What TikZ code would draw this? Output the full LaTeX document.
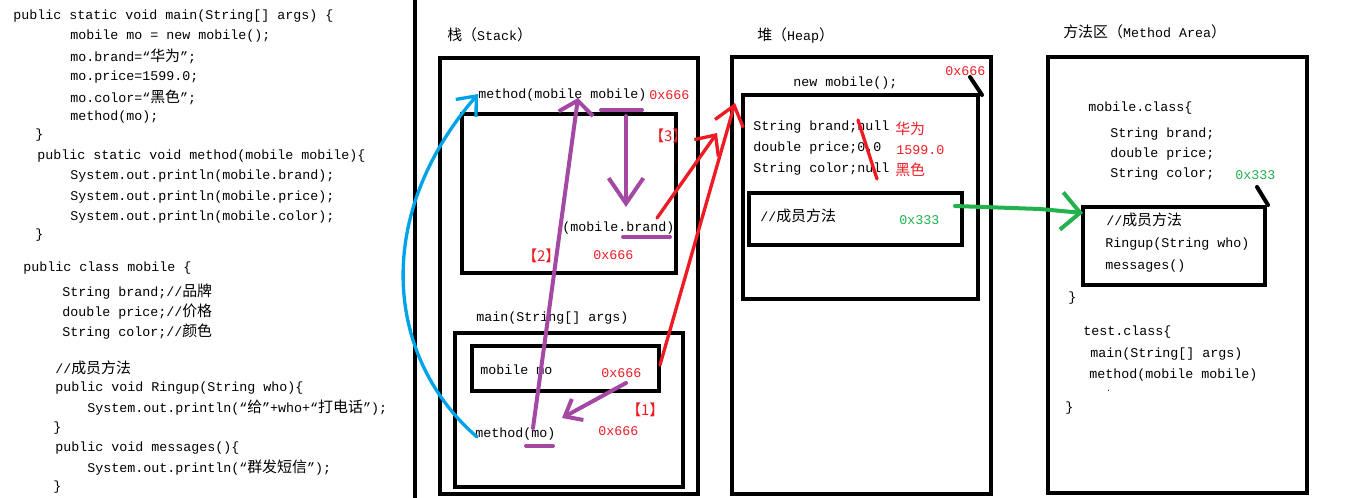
\documentclass[tikz,border=0pt]{standalone}
\usepackage{fontspec}
\setmonofont{Liberation Mono}
\newfontfamily\cjk[Scale=1.12]{Noto Sans CJK SC}
\newcommand\zhtext[1]{{\cjk #1}}
\usetikzlibrary{arrows.meta}
\definecolor{pred}{RGB}{237,28,36}
\definecolor{ppurple}{RGB}{163,73,164}
\definecolor{pblue}{RGB}{0,162,232}
\definecolor{pgreen}{RGB}{34,177,76}
\tikzset{
  src/.style={anchor=west, inner sep=0pt, font=\ttfamily\fontsize{10}{12}\selectfont},
  addr/.style={src, text=pred},
  addrg/.style={src, text=pgreen},
  membox/.style={draw, line width=3pt},
  hand/.style={line width=#1, line cap=round, line join=round},
  hand/.default=2.5pt
}

\begin{document}
\begin{tikzpicture}[x=0.75pt,y=-0.75pt]
	\useasboundingbox (0,0) rectangle (1360,498);
	%% The source code
	\node[src] (m1) at (13,16) {public static void main(String[] args) \{};
	\node[src] (m2) at (70,36) {mobile mo = new mobile();};
	\node[src] (m3) at (70,56) {mo.brand=“\zhtext{华为}”;};
	\node[src] (m4) at (70,77) {mo.price=1599.0;};
	\node[src] (m5) at (70,97) {mo.color=“\zhtext{黑色}”;};
	\node[src] (m6) at (70,117) {method(mo);};
	\node[src] (m7) at (35,135) {\}};
	\node[src] (t1) at (37,156) {public static void method(mobile mobile)\{};
	\node[src] (t2) at (70,176) {System.out.println(mobile.brand);};
	\node[src] (t3) at (70,197) {System.out.println(mobile.price);};
	\node[src] (t4) at (70,217) {System.out.println(mobile.color);};
	\node[src] (t5) at (35,235) {\}};
	\node[src] (c1) at (23,268) {public class mobile \{};
	\node[src] (c2) at (62,292) {String brand;//\zhtext{品牌}};
	\node[src] (c3) at (62,312) {double price;//\zhtext{价格}};
	\node[src] (c4) at (62,332) {String color;//\zhtext{颜色}};
	\node[src] (c5) at (55,368) {//\zhtext{成员方法}};
	\node[src] (c6) at (55,388) {public void Ringup(String who)\{};
	\node[src] (c7) at (87,408) {System.out.println(“\zhtext{给}”+who+“\zhtext{打电话}”);};
	\node[src] (c8) at (53,428) {\}};
	\node[src] (c9) at (55,448) {public void messages()\{};
	\node[src] (c10) at (87,468) {System.out.println(“\zhtext{群发短信}”);};
	\node[src] (c11) at (53,487) {\}};
	\draw[line width=3pt] (415,0) -- (415,498);

	%% The Stack
	\node[src] (stack) at (447,35) {\zhtext{栈（}Stack\zhtext{）}};
	\draw[membox] (440,58) rectangle (698,494);
	\node[src] (mframe) at (478,95) {method(mobile mobile)};
	\node[addr] (a1) at (649,95) {0x666};
	\draw[membox] (462,114) rectangle (676,273);
	\node[addr] (n3) at (649,136) {\zhtext{【3】}};
	\node[src] (brand) at (562,228) {(mobile.brand)};
	\node[addr] (n2) at (522,256) {\zhtext{【2】}};
	\node[addr] (a2) at (593,255) {0x666};
	\node[src] (mainf) at (476,318) {main(String[] args)};
	\draw[membox] (455,333) rectangle (683,487);
	\draw[membox] (472,346) rectangle (659,391);
	\node[src] (mo) at (480,370) {mobile mo};
	\node[addr] (a3) at (601,373) {0x666};
	\node[addr] (n1) at (626,410) {\zhtext{【1】}};
	\node[src] (callmo) at (475,434) {method(mo)};
	\node[addr] (a4) at (598,431) {0x666};

	%% The Heap
	\node[src] (heap) at (757,35) {\zhtext{堆（}Heap\zhtext{）}};
	\draw[membox] (732,57) rectangle (991,494);
	\node[src] (newm) at (793,83) {new mobile();};
	\node[addr] (a5) at (945,71) {0x666};
	\draw[membox] (743,95) rectangle (978,299);
	\node[src] (hb) at (753,127) {String brand;null};
	\node[src] (hp) at (753,148) {double price;0.0};
	\node[src] (hc) at (753,169) {String color;null};
	\node[addr] (vb) at (895,129) {\zhtext{华为}};
	\node[addr] (vp) at (896,150) {1599.0};
	\node[addr] (vc) at (895,170) {\zhtext{黑色}};
	\draw[membox] (749,193) rectangle (962,245);
	\node[src] (hm) at (760,216) {//\zhtext{成员方法}};
	\node[addrg] (g1) at (899,220) {0x333};

	%% The Method Area
	\node[src] (marea) at (1063,32) {\zhtext{方法区（}Method Area\zhtext{）}};
	\draw[membox] (1048,57) rectangle (1307,493);
	\node[src] (mc) at (1088,108) {mobile.class\{};
	\node[src] (mc1) at (1110,134) {String brand;};
	\node[src] (mc2) at (1110,154) {double price;};
	\node[src] (mc3) at (1110,174) {String color;};
	\node[addrg] (g2) at (1235,175) {0x333};
	\draw[membox] (1083,207) rectangle (1265,285);
	\node[src] (mm1) at (1106,220) {//\zhtext{成员方法}};
	\node[src] (mm2) at (1105,244) {Ringup(String who)};
	\node[src] (mm3) at (1105,266) {messages()};
	\node[src] (mc4) at (1068,298) {\}};
	\node[src] (tc) at (1083,332) {test.class\{};
	\node[src] (tc1) at (1090,354) {main(String[] args)};
	\node[src] (tc2) at (1089,375) {method(mobile mobile)};
	\node[src, scale=0.6] (tc3) at (1106,391) {.};
	\node[src] (tc4) at (1065,408) {\}};

	%% The hand drawn marks
	\coordinate (blueend) at (478,94);
	\coordinate (purpletop) at (578,98);
	\coordinate (purplelow) at (562,418);
	\coordinate (downend) at (626,207);
	\coordinate (redend1) at (717,133);
	\coordinate (redend2) at (735,103);
	\coordinate (greenend) at (1083,213);
	\draw[hand=2.5pt, pblue, -{Straight Barb[length=12pt,width=20pt]}]
		(477,437) .. controls (388,360) and (370,220) .. (blueend);
	\draw[hand=3pt, ppurple, -{Straight Barb[length=10pt,width=26pt]}]
		(533,428) -- (purpletop);
	\draw[hand=3pt, ppurple, -{Straight Barb[length=11pt,width=18pt]}]
		(626,383) -- (purplelow);
	\draw[hand=3pt, ppurple] (601,110) -- (642,110);
	\draw[hand=3pt, ppurple, -{Straight Barb[length=19pt,width=26pt]}]
		(626,116) -- (downend);
	\draw[hand=3pt, ppurple] (623,237) -- (670,237);
	\draw[hand=3pt, ppurple] (526,446) -- (553,446);
	\draw[hand=2.5pt, pred, -{Straight Barb[length=12pt,width=22pt]}]
		(657,218) -- (redend1);
	\draw[hand=2.5pt, pred, -{Straight Barb[length=14pt,width=22pt]}]
		(660,365) -- (redend2);
	\draw[hand=2.5pt, pred] (858,120) -- (877,179);
	\draw[hand=3pt, pgreen, -{Straight Barb[length=14pt,width=28pt]}]
		(955,206) -- (1040,209) -- (greenend);
	\draw[hand=3pt] (970,77) -- (982,95);
	\draw[hand=3pt] (1257,187) -- (1268,205);
\end{tikzpicture}
\end{document}
